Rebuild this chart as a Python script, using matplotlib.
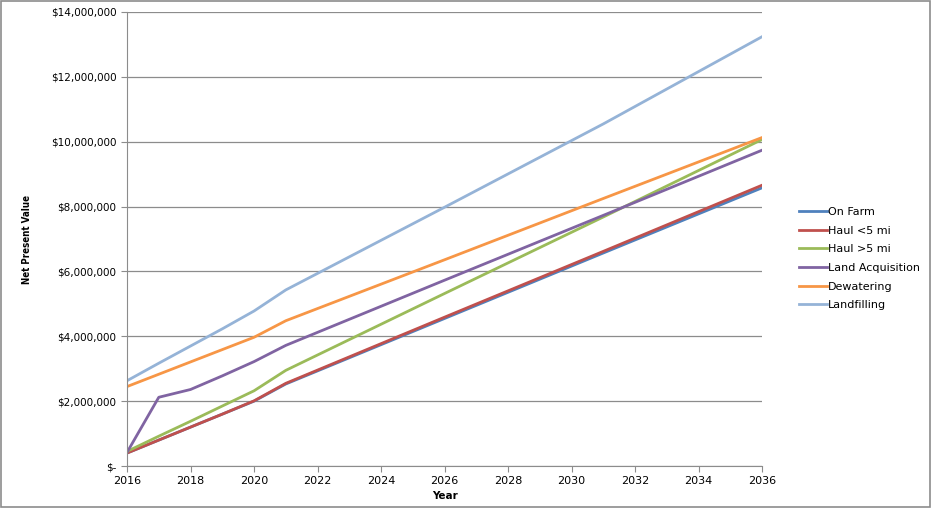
import matplotlib
matplotlib.use("Agg")
import matplotlib.pyplot as plt
from matplotlib.patches import Rectangle
from matplotlib.ticker import FuncFormatter, MultipleLocator

# values, in millions of dollars
years = [2016, 2017, 2018, 2019, 2020, 2021, 2026, 2031, 2036]
on_farm = [0.40, 0.80, 1.20, 1.60, 2.00, 2.53, 4.55, 6.57, 8.58]
haul_lt5 = [0.40, 0.80, 1.20, 1.60, 2.01, 2.55, 4.59, 6.62, 8.66]
haul_gt5 = [0.45, 0.92, 1.38, 1.85, 2.32, 2.95, 5.32, 7.68, 10.07]
land_acq = [0.42, 2.12, 2.36, 2.78, 3.22, 3.72, 5.73, 7.73, 9.74]
dewatering = [2.45, 2.83, 3.21, 3.59, 3.97, 4.48, 6.36, 8.25, 10.13]
landfilling = [2.63, 3.17, 3.70, 4.23, 4.78, 5.43, 7.98, 10.55, 13.24]

series = [
    ("On Farm", on_farm, "#4F81BD"),
    ("Haul <5 mi", haul_lt5, "#C0504D"),
    ("Haul >5 mi", haul_gt5, "#9BBB59"),
    ("Land Acquisition", land_acq, "#8064A2"),
    ("Dewatering", dewatering, "#F79646"),
    ("Landfilling", landfilling, "#95B3D7"),
]


def money(v, pos):
    if abs(v) < 1e-9:
        return "$-"
    return f"${v * 1e6:,.0f}"


fig = plt.figure(figsize=(9.34, 5.15), dpi=100)
ax = fig.add_axes([0.136, 0.0951, 0.680, 0.8816])

for label, vals, color in series:
    ax.plot(years, vals, color=color, linewidth=2.0, label=label,
            solid_joinstyle="round")

ax.set_xlim(2016, 2036)
ax.set_ylim(0, 14)
ax.xaxis.set_major_locator(MultipleLocator(2))
ax.yaxis.set_major_locator(MultipleLocator(2))
ax.yaxis.set_major_formatter(FuncFormatter(money))
ax.grid(axis="y", color="#8c8c8c", linewidth=0.9)
ax.set_axisbelow(True)

for side in ("top", "right"):
    ax.spines[side].set_visible(False)
for side in ("left", "bottom"):
    ax.spines[side].set_color("#8c8c8c")
ax.tick_params(colors="#8c8c8c", labelcolor="black", length=4,
               direction="out")
ax.tick_params(axis="x", labelsize=8)
ax.tick_params(axis="y", labelsize=7.5)

ax.set_xlabel("Year", fontsize=7.5, fontweight="bold", labelpad=3)
ax.set_ylabel("Net Present Value", fontsize=7, fontweight="bold",
              fontstretch="condensed", labelpad=14)

leg = ax.legend(loc="upper left", bbox_to_anchor=(0.851, 0.607),
                bbox_transform=fig.transFigure, frameon=False, fontsize=8,
                handlelength=2.5, handletextpad=0.1, labelspacing=0.78,
                borderaxespad=0)

fig.patches.append(Rectangle((1 / 934, 8 / 515), 929 / 934, 506 / 515,
                             transform=fig.transFigure, fill=False,
                             edgecolor="#8c8c8c", linewidth=1.2))

fig.savefig("out.png", dpi=100)
